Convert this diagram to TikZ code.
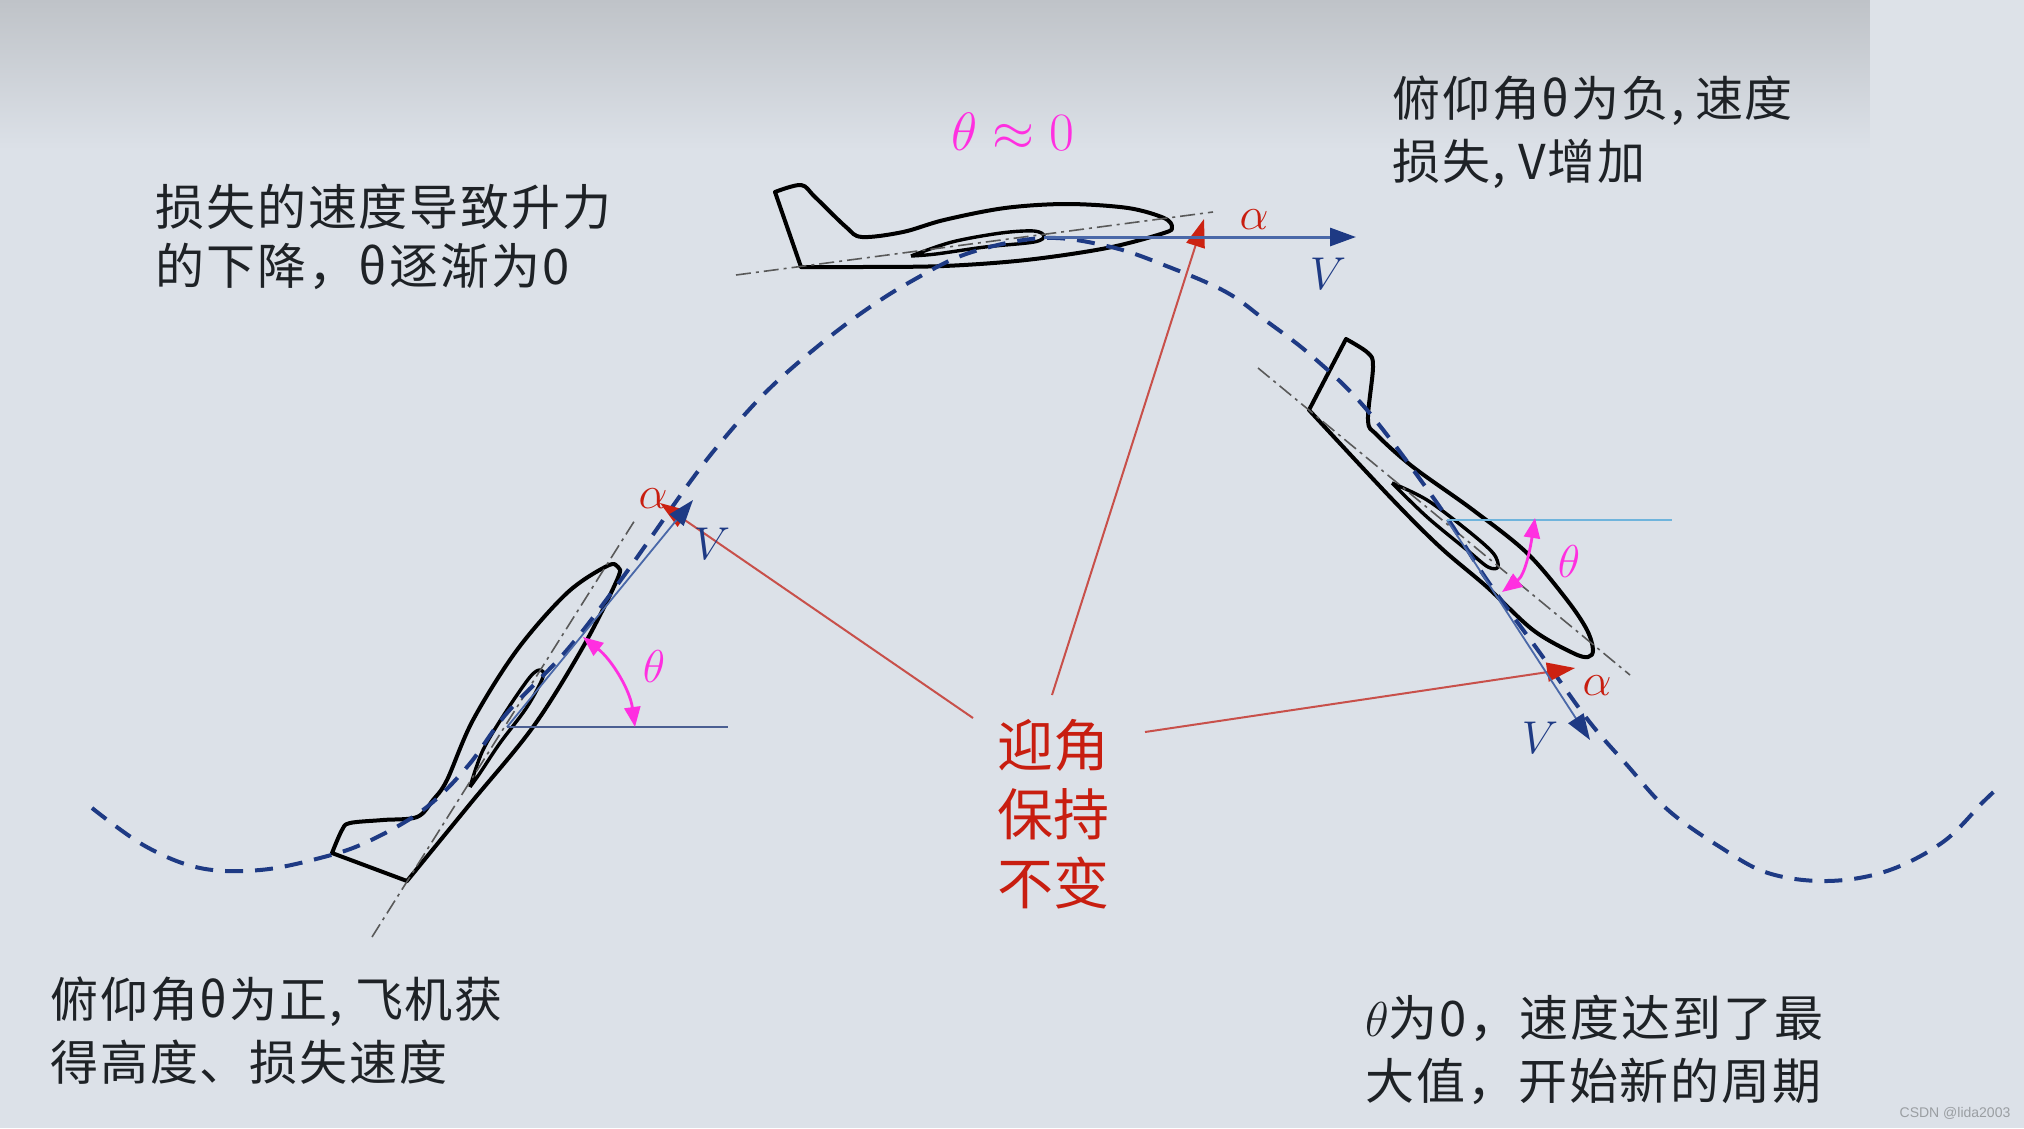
\RequirePackage{fix-cm}
\documentclass[tikz,border=0pt]{standalone}
\usepackage{fontspec}
\setmainfont{Noto Sans CJK SC}
\newfontfamily\cjkbody[LetterSpace=4]{Noto Sans CJK SC}
\newfontfamily\markfont{Liberation Sans}
\usetikzlibrary{arrows.meta}
\DeclareMathSizes{46}{46}{32}{23}
\DeclareMathSizes{54}{54}{38}{27}
\DeclareMathSizes{49}{49}{34}{24}
\definecolor{bgbase}{HTML}{DCE1E8}
\definecolor{bgtop}{HTML}{BFC3C8}
\definecolor{bgstrip}{HTML}{DDE2E8}
\definecolor{navy}{HTML}{1E3A84}
\definecolor{vline}{HTML}{4A68A8}
\definecolor{hline}{HTML}{4B5F92}
\definecolor{skyl}{HTML}{6FB4DC}
\definecolor{redtip}{HTML}{CC2211}
\definecolor{redline}{HTML}{C8504A}
\definecolor{redtext}{HTML}{C81E10}
\definecolor{mag}{HTML}{FF2FE0}
\definecolor{ink}{HTML}{1E2226}
\tikzset{
  x=1pt,y=-1pt,
  plane/.style={draw=black,line width=4pt,line join=round,line cap=round},
  wingline/.style={draw=black,line width=3.4pt,line join=round},
  axisline/.style={draw=black!65,line width=1.6pt,dash pattern=on 15pt off 5pt on 3pt off 5pt},
  track/.style={draw=navy,line width=4pt,dash pattern=on 18pt off 12pt},
  vvec/.style={draw=vline,line width=1.8pt,-{Triangle[length=26pt,width=18pt,color=navy]}},
  redvec/.style={draw=redline,line width=2pt,-{Triangle[length=28pt,width=19pt,color=redtip]}},
  thetaarc/.style={draw=mag,line width=2.8pt,{Triangle[length=20pt,width=16pt]}-{Triangle[length=20pt,width=16pt]}},
  notea/.style={inner sep=0pt,anchor=north west,align=left,text=ink,font=\fontsize{48}{62.5}\selectfont\cjkbody},
  noteb/.style={inner sep=0pt,anchor=north west,align=left,text=ink,font=\fontsize{49}{62.5}\selectfont\cjkbody},
  notec/.style={inner sep=0pt,anchor=north west,align=left,text=ink,font=\fontsize{49}{59}\selectfont\cjkbody},
  vlabel/.style={inner sep=0pt,text=navy,font=\fontsize{46}{46}\selectfont},
  alabel/.style={inner sep=0pt,text=redtext,font=\fontsize{46}{46}\selectfont},
  tlabel/.style={inner sep=0pt,text=mag,font=\fontsize{46}{46}\selectfont},
}
\begin{document}
\begin{tikzpicture}
\useasboundingbox (0,0) rectangle (2024,1128);
\fill[bgbase] (0,0) rectangle (2024,1128);
\shade[top color=bgtop,bottom color=bgbase] (0,0) rectangle (1870,150);
\fill[bgstrip] (1870,0) rectangle (2024,400);

% top aeroplane
\draw[plane] (801,267) -- (775,192) plot[smooth,tension=.55] coordinates{(775,192)(801,185)(815,197)(846,227)(862,237)(903,232)(944,220)(1005,208)(1067,204)(1128,208)(1164,218)(1172,227)(1164,233)(1107,248)(1026,260)(944,266)(862,267)(801,267)};
\draw[wingline] plot[smooth,tension=.55] coordinates{(911,256)(952,242)(1001,233)(1034,231)(1044,236)(1034,242)(985,247)(936,254)(911,256)};
\draw[axisline] (736,275) -- (1213,212);

% left aeroplane
\draw[plane] (407,881) -- (332,853) plot[smooth,tension=.55] coordinates{(332,853)(342,830)(350,823)(383,820)(417,817)(433,800)(447,780)(473,720)(517,650)(567,593)(607,566)(618,567)(617,580)(583,647)(533,727)(470,804)(407,881)};
\draw[wingline] plot[smooth,tension=.55] coordinates{(470,787)(483,750)(507,710)(530,677)(540,670)(543,677)(527,707)(500,743)(480,773)(470,787)};
\draw[axisline] (372,937) -- (635,520);

% right aeroplane
\draw[plane] (1309,410) -- (1346,339) plot[smooth,tension=.55] coordinates{(1346,339)(1368,353)(1373,367)(1368,420)(1377,435)(1413,467)(1473,510)(1527,553)(1567,600)(1587,630)(1593,650)(1588,657)(1573,653)(1533,630)(1487,587)(1440,547)(1390,497)(1309,410)};
\draw[wingline] plot[smooth,tension=.55] coordinates{(1392,483)(1427,500)(1467,530)(1493,553)(1498,567)(1488,567)(1467,550)(1427,517)(1392,483)};
\draw[axisline] (1258,368) -- (1630,675);

% flight path
\draw[track] plot[smooth,tension=.6] coordinates{(92,808)(145,846)(200,868)(260,870)(320,858)(367,842)(423,810)(467,767)(507,713)(567,650)(623,577)(690,482)(727,435)(767,391)(812,351)(860,314)(910,282)(969,253)(1044,238)(1111,247)(1169,267)(1226,292)(1265,320)(1313,357)(1367,410)(1437,503)(1487,580)(1540,653)(1588,720)(1627,765)(1668,810)(1720,847)(1768,873)(1827,881)(1887,871)(1943,842)(1983,802)(2000,786)};

% centre label and its arrows
\node[inner sep=0pt,align=center,text=redtext,font=\fontsize{56}{69}\selectfont] (hold) at (1053,814) {迎角\\保持\\不变};
\coordinate (tipleft) at (660,503);
\coordinate (tiptop) at (1204,219);
\coordinate (tipright) at (1575,668);
\coordinate (sleft) at (973,718);
\coordinate (stop) at (1052,695);
\coordinate (sright) at (1145,732);
\draw[redvec] (sleft) -- (tipleft);
\draw[redvec] (stop) -- (tiptop);
\draw[redvec] (sright) -- (tipright);

% reference lines and velocity vectors
\coordinate (vtopS) at (1044,237);
\coordinate (vtopE) at (1356,237);
\coordinate (vleftS) at (507,727);
\coordinate (vleftE) at (693,500);
\coordinate (hleftE) at (728,727);
\coordinate (vrightS) at (1447,520);
\coordinate (vrightE) at (1590,740);
\coordinate (hrightE) at (1672,520);
\draw[vvec,line width=3pt] (vtopS) -- (vtopE);
\draw[vvec] (vleftS) -- (vleftE);
\draw[vvec] (vrightS) -- (vrightE);
\draw[draw=hline,line width=1.8pt] (vleftS) -- (hleftE);
\draw[draw=skyl,line width=2pt] (vrightS) -- (hrightE);

% pitch arcs
\coordinate (al) at (635,727);
\coordinate (bl) at (583,637);
\coordinate (ar) at (1535,518);
\coordinate (br) at (1502,592);
\draw[thetaarc] (al) .. controls (630,690) and (612,660) .. (bl);
\draw[thetaarc] (ar) .. controls (1530,550) and (1525,575) .. (br);

% labels
\node[tlabel,font=\fontsize{54}{54}\selectfont] (ttop) at (1013,132) {$\theta\approx0$};
\node[tlabel] (tleft) at (654,667) {$\theta$};
\node[tlabel] (tright) at (1569,562) {$\theta$};
\node[alabel] (aleft) at (653,499) {$\alpha$};
\node[alabel] (atop) at (1254,220) {$\alpha$};
\node[alabel] (aright) at (1597,686) {$\alpha$};
\node[vlabel] (vleft) at (712,544) {$V$};
\node[vlabel] (vtop) at (1328,274) {$V$};
\node[vlabel] (vright) at (1540,738) {$V$};

% notes
\node[notec] (n1) at (155,184) {损失的速度导致升力\\的下降，θ逐渐为0};
\node[notea] (n2) at (1392,76) {俯仰角θ为负,\kern10pt{}速度\\损失, V增加};
\node[notea] (n3) at (50,977) {俯仰角θ为正,\kern12pt{}飞机获\\得高度、损失速度};
\node[noteb] (n4) at (1365,995) {$\theta$为0，速度达到了最\\大值，开始新的周期};
\node[inner sep=0pt,text=black!30!bgbase,font=\fontsize{14}{15}\markfont] (wm) at (1955,1113) {CSDN @lida2003};
\end{tikzpicture}
\end{document}
